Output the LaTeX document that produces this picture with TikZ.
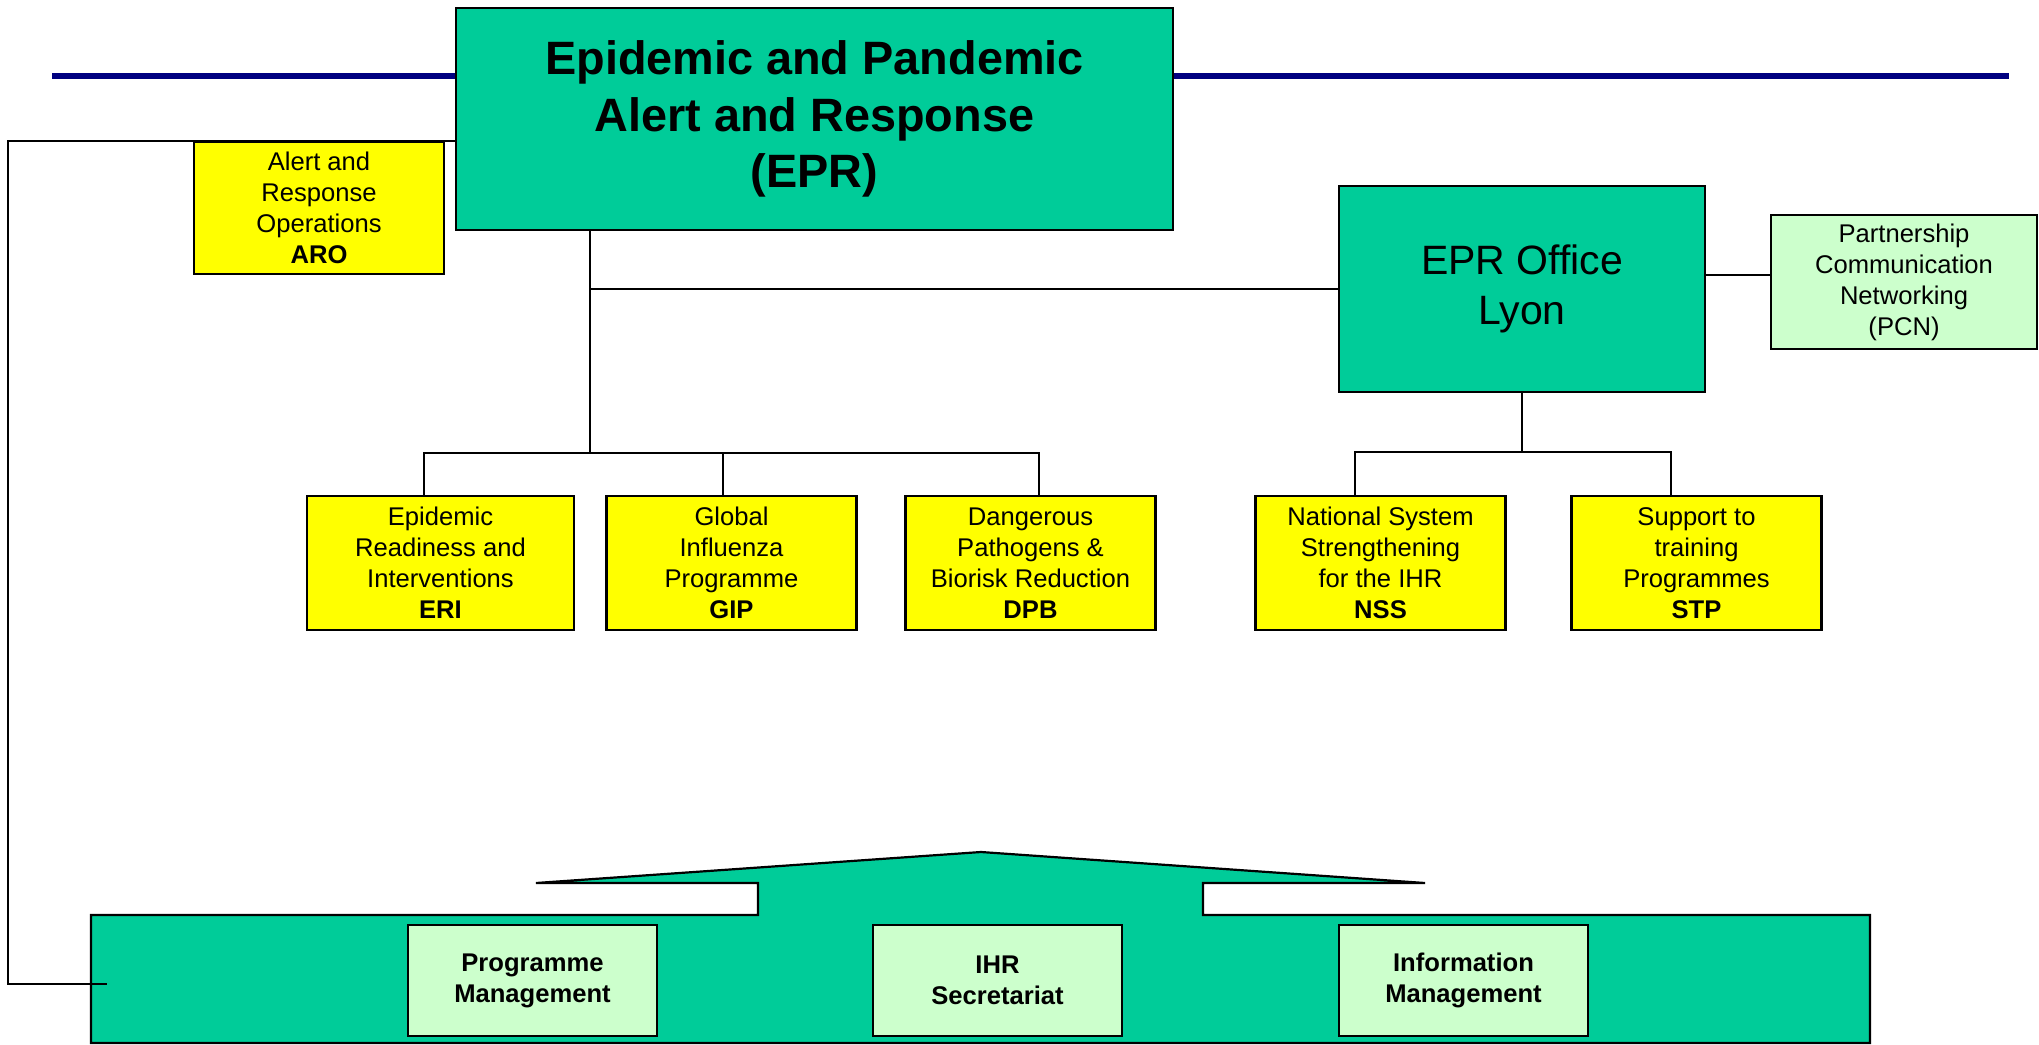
\documentclass[tikz,border=0pt]{standalone}
\usepackage{fontspec}
\setmainfont{Liberation Sans}
\usetikzlibrary{backgrounds}

\definecolor{eprgreen}{HTML}{00CC99}
\definecolor{unityellow}{HTML}{FFFF00}
\definecolor{teamgreen}{HTML}{CCFFCC}
\definecolor{rulenavy}{HTML}{000080}

\begin{document}
\begin{tikzpicture}[x=0.5pt, y=-0.5pt,
  every node/.style={draw, line width=1.1pt, align=center, inner sep=0pt,
    font=\fontsize{12.8}{15.5}\selectfont},
  headbox/.style={fill=eprgreen, minimum width=358.5pt, minimum height=111pt,
    font=\fontsize{23.4}{28.2}\selectfont\bfseries},
  officebox/.style={fill=eprgreen, minimum width=183pt, minimum height=103pt,
    font=\fontsize{20.5}{25}\selectfont},
  unitbox/.style={fill=unityellow, minimum width=125pt, minimum height=67pt},
  teambox/.style={fill=teamgreen, minimum width=124.5pt, minimum height=55.5pt},
  link/.style={draw, line width=0.9pt}]
  \useasboundingbox (0,0) rectangle (2039,1044);

  % top level
  \node[headbox] (epr) at (814.5,119) {Epidemic and Pandemic\\Alert and Response\\(EPR)};
  \node[unitbox, minimum height=66pt] (aro) at (319,208) {Alert and\\Response\\Operations\\\textbf{ARO}};
  \node[officebox] (lyon) at (1522,289) {EPR Office\\Lyon};
  \node[teambox, minimum width=133pt, minimum height=67pt] (pcn) at (1904,282)
    {Partnership\\Communication\\Networking\\(PCN)};

  % units
  \node[unitbox, minimum width=133.5pt] (eri) at (440.5,563) {Epidemic\\Readiness and\\Interventions\\\textbf{ERI}};
  \node[unitbox] (gip) at (731.5,563) {Global\\Influenza\\Programme\\\textbf{GIP}};
  \node[unitbox] (dpb) at (1030.5,563) {Dangerous\\Pathogens \&\\Biorisk Reduction\\\textbf{DPB}};
  \node[unitbox] (nss) at (1380.5,563) {National System\\Strengthening\\for the IHR\\\textbf{NSS}};
  \node[unitbox] (stp) at (1696.5,563) {Support to\\training\\Programmes\\\textbf{STP}};

  % IHR secretariat teams
  \foreach \n/\x/\txt in {pm/532.5/Programme\\Management, ihr/997.5/IHR\\Secretariat,
      im/1463.5/Information\\Management}
    \node[teambox, font=\fontsize{12.8}{15.5}\selectfont\bfseries] (\n) at (\x,980.5) {\txt};

  \coordinate (trunk) at (590,453);
  \coordinate (lyonbus) at (1522,452);
  \coordinate (pmtip) at (107,984);

  \begin{pgfonlayer}{background}
    \draw[rulenavy, line width=3pt] (52,76) -- (2009,76);
    \filldraw[fill=eprgreen, line width=1.1pt] (91,1043) -- (91,915) -- (758,915) -- (758,883)
      -- (536,883) -- (981,852) -- (1425,883) -- (1203,883) -- (1203,915) -- (1870,915)
      -- (1870,1043) -- cycle;
    \draw[link] (epr.west |- aro.north) -| (8,984) -- (pmtip);
    \draw[link] (trunk |- epr.south) -- (trunk);
    \draw[link] (trunk |- lyon.west) -- (lyon.west);
    \foreach \n/\x in {eri/424,gip/723,dpb/1039}
      \draw[link] (trunk) -| (\x,0 |- \n.north);
    \draw[link] (lyon.south) -- (lyonbus);
    \foreach \n/\x in {nss/1355,stp/1671}
      \draw[link] (lyonbus) -| (\x,0 |- \n.north);
    \draw[link] (lyon.east |- 0,275) -- (pcn.west |- 0,275);
  \end{pgfonlayer}
\end{tikzpicture}
\end{document}
